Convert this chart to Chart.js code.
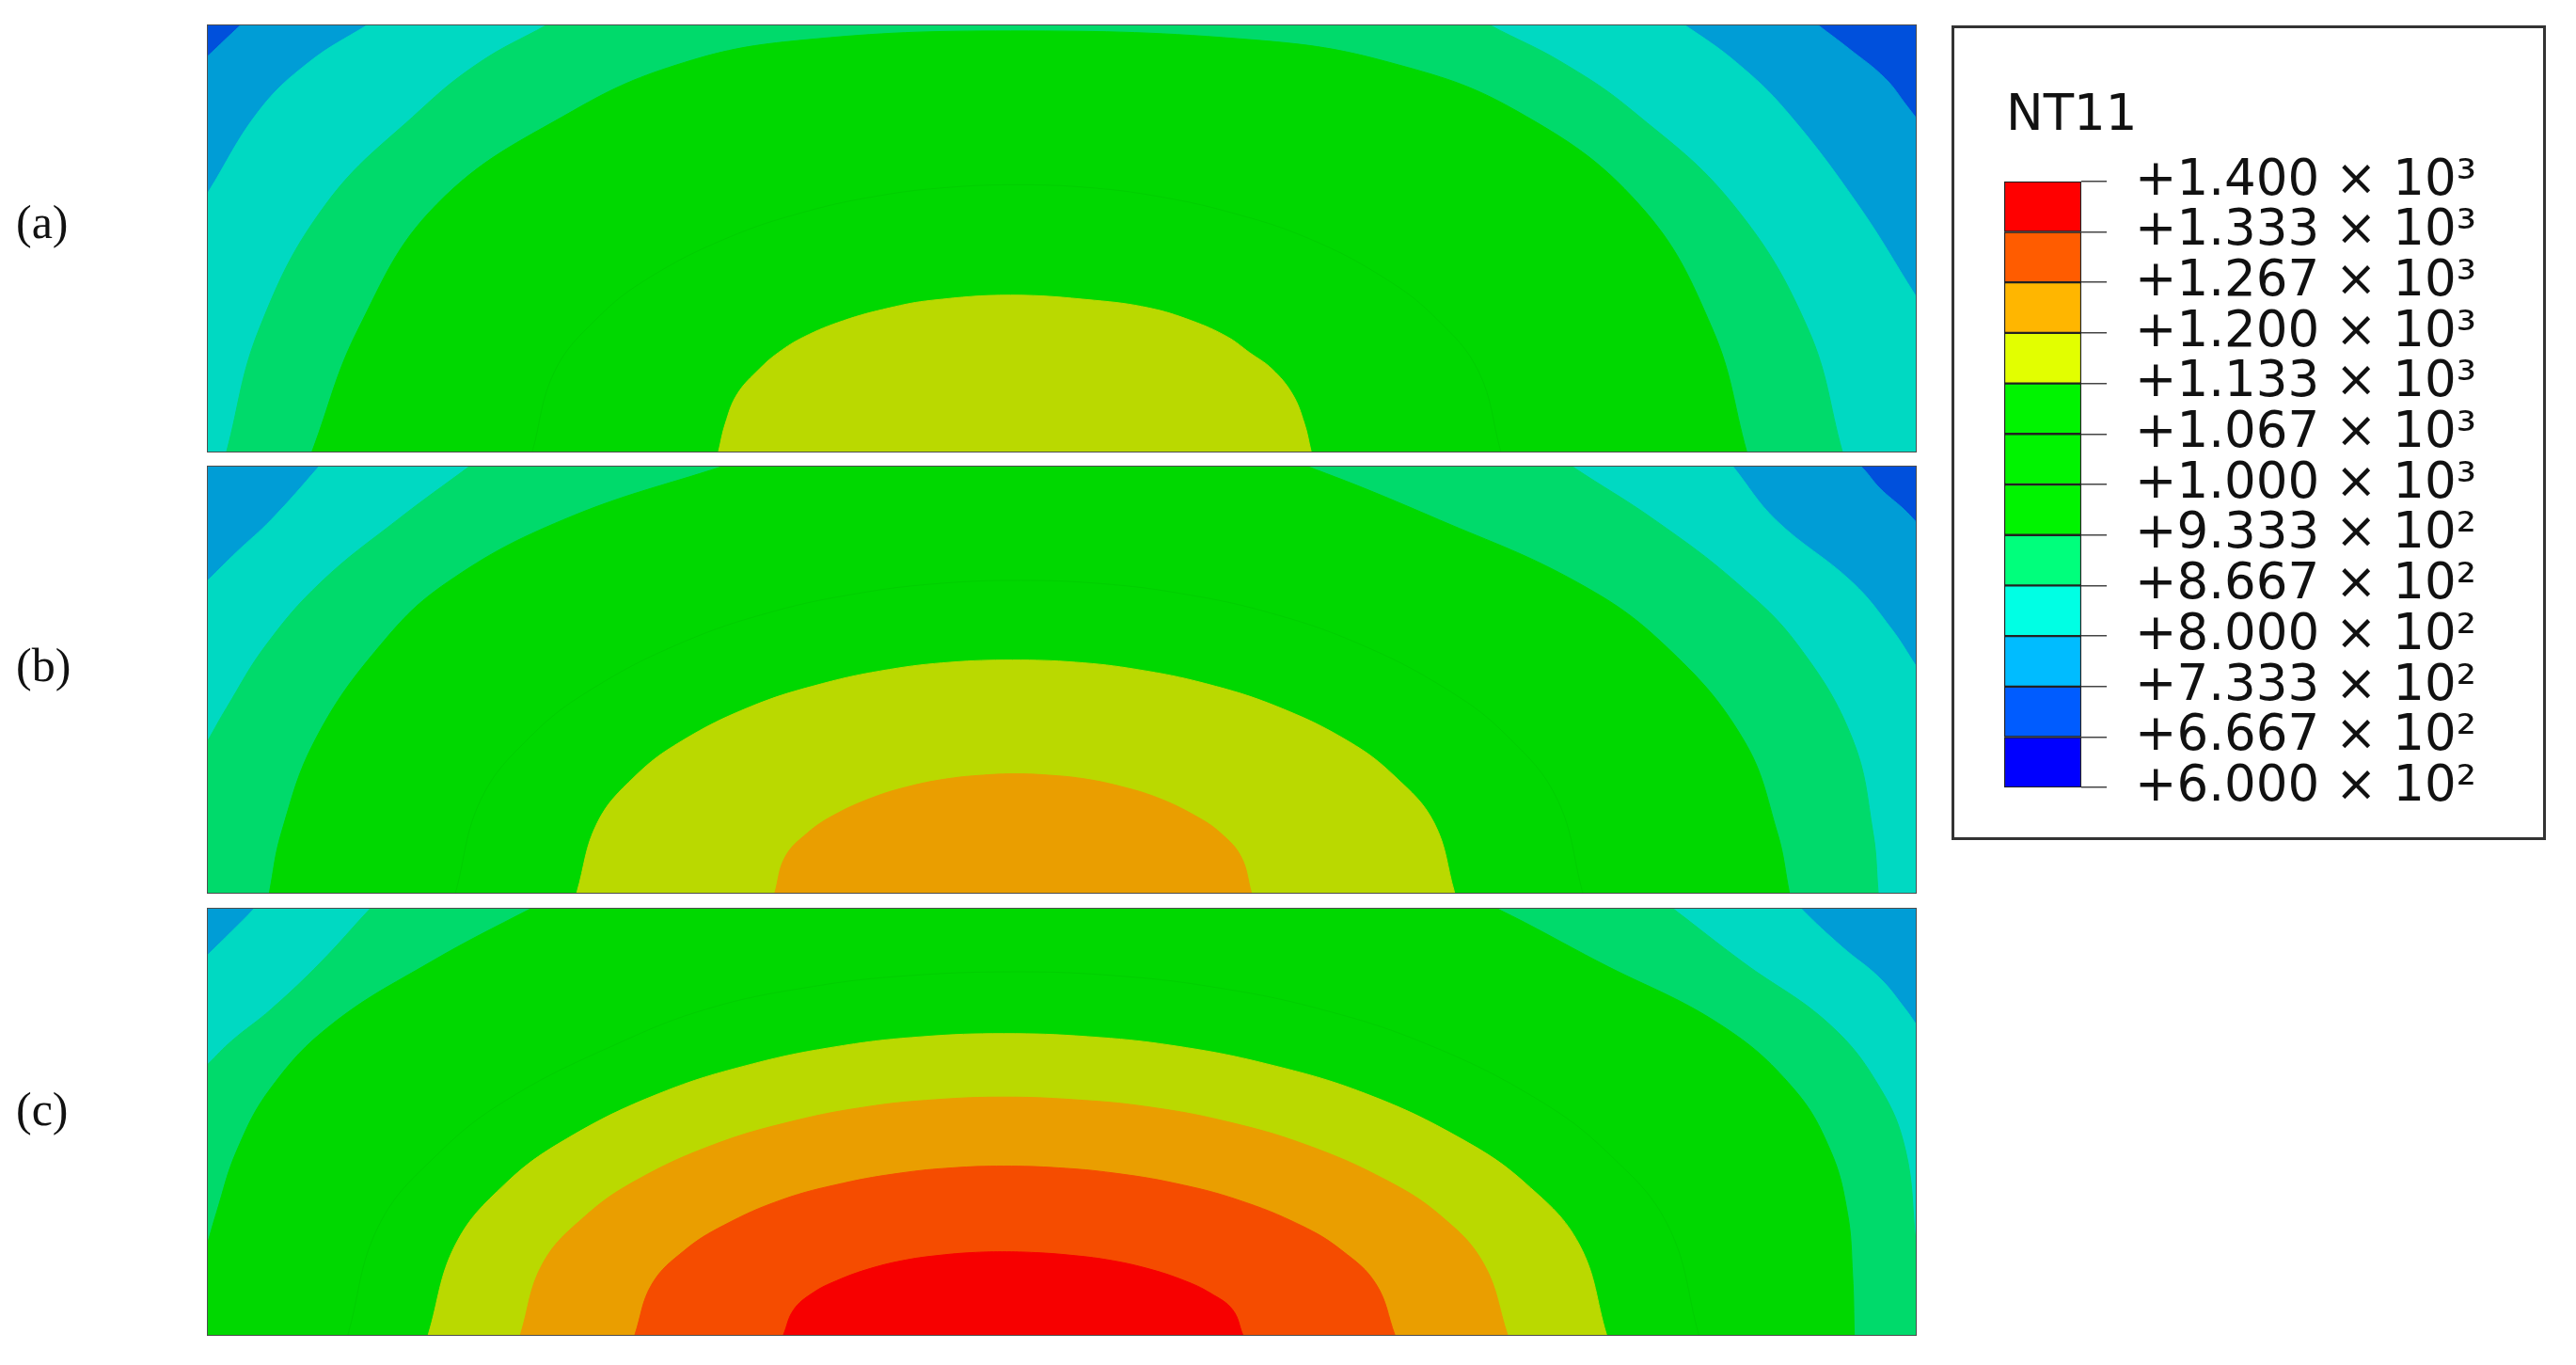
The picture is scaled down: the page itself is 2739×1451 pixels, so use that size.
<!DOCTYPE html>
<html>
<head>
<meta charset="utf-8">
<script src="https://cdn.jsdelivr.net/npm/chart.js@4.4.1/dist/chart.umd.min.js"></script>
<style>
body { margin:0; background:#fff; width:2739px; height:1451px; overflow:hidden; position:relative; }
.panel { position:absolute; left:220px; width:1818px; height:455px; box-sizing:border-box; border:1px solid #4d4d4d; }
.tag { position:absolute; left:17px; font:50px/50px "Liberation Serif", serif; color:#111; }
#legend-box { position:absolute; left:2075px; top:27px; width:632px; height:866px; box-sizing:border-box; border:3px solid #333; }
#legend-title { position:absolute; left:2133px; top:93px; font:53px/53px "DejaVu Sans", sans-serif; color:#111; }
#legend-wrap { position:absolute; left:2131px; top:131px; width:512px; height:768px; }
</style>
</head>
<body>
<div class="tag" style="top:211px">(a)</div>
<div class="tag" style="top:682px">(b)</div>
<div class="tag" style="top:1154px">(c)</div>
<div class="panel" style="top:26px"><canvas id="panel-a"></canvas></div>
<div class="panel" style="top:495px"><canvas id="panel-b"></canvas></div>
<div class="panel" style="top:965px"><canvas id="panel-c"></canvas></div>
<div id="legend-box"></div>
<div id="legend-title">NT11</div>
<div id="legend-wrap"><canvas id="legend"></canvas></div>

<script>
Chart.defaults.font.family = 'DejaVu Sans';

// legend levels (NT11) and their labels
const levels = [600, 666.7, 733.3, 800, 866.7, 933.3, 1000, 1066.7, 1133.3, 1200, 1266.7, 1333.3, 1400];
const tickLabels = ['+6.000 × 10²', '+6.667 × 10²', '+7.333 × 10²', '+8.000 × 10²', '+8.667 × 10²', '+9.333 × 10²',
    '+1.000 × 10³', '+1.067 × 10³', '+1.133 × 10³', '+1.200 × 10³', '+1.267 × 10³', '+1.333 × 10³', '+1.400 × 10³'];
const legendColors = ['#0000ff', '#005cff', '#00bcff', '#00ffe4', '#00ff7c', '#00f400', '#00f400', '#00f400',
    '#e2ff00', '#ffb600', '#ff5c00', '#ff0000'];

// contour fill colours as they show up in the plots
const darkBlue = '#0050dc';
const midBlue = '#009dd6';
const cyan = '#00d9c2';
const greenCyan = '#00da6b';
const green = '#00d800';
const yellow = '#bad900';
const orange = '#ea9e00';
const redOrange = '#f54c00';
const red = '#f70000';
const faintEdge = '#00cf00';

// contour boundaries, [x %, y %] from bottom-left of each plate, area below each line takes the colour
// (a)
const aFull = [[0, 100], [100, 100]];
const aBlue = [[0, 92.8], [1.9, 100], [3, 104], [93, 104], [94.3, 100], [96.1, 94.5], [98.2, 87.6], [99.5, 81], [100, 78.4]];
const aCyan = [[0, 60.7], [3.0, 80], [5.9, 91.3], [9.3, 100], [10.8, 103.5], [84.5, 105], [86.5, 100], [89.5, 91.3], [92.4, 80], [96.6, 58], [100, 36.5]];
const aGreenCyan = [[1.1, 0], [3.0, 28.7], [6.9, 58], [12.4, 80], [15.9, 91.3], [19.8, 100], [22.5, 106], [72.5, 106], [75.1, 100], [79.3, 91.3], [83.4, 80], [89.3, 58], [93.7, 28.7], [95.7, 0]];
const aGreen = [[6.1, 0], [8.8, 28.7], [13.4, 58], [21.4, 80], [27.9, 91.3], [34.7, 96.5], [47, 98.7], [61.5, 96.5], [69.2, 91.3], [76.6, 80], [83.8, 58], [88.1, 28.7], [90.1, 0]];
const aGreen2 = [[19.0, 0], [20.3, 18.8], [22.8, 31.3], [25.8, 40.7], [30.4, 50.1], [35.0, 56.3], [39.4, 60.1], [43.4, 62.0], [47.4, 62.6], [51.4, 62.0], [55.3, 60.1], [59.7, 56.3], [64.4, 50.1], [68.9, 40.7], [71.9, 31.3], [74.4, 18.8], [75.7, 0]];
const aYellow = [[29.9, 0], [30.3, 6.6], [31.0, 13.5], [32.3, 19.4], [33.4, 23.2], [34.9, 26.9], [37.2, 30.7], [39.9, 33.7], [42.4, 35.5], [47.0, 36.7], [51.9, 35.5], [55.1, 33.7], [57.6, 30.7], [59.7, 26.9], [61.0, 23.2], [62.3, 19.4], [63.5, 13.5], [64.2, 6.6], [64.6, 0]];

// (b)
const bFull = [[0, 100], [100, 100]];
const bBlue = [[0, 104], [95.5, 104], [96.8, 100], [97.9, 94.9], [99.3, 90], [100, 87.1]];
const bCyan = [[0, 73.3], [1.7, 80], [3.7, 87.5], [6.5, 100], [7.5, 105], [88.3, 105], [89.3, 100], [91.8, 87.5], [96.3, 72.8], [98.6, 61.8], [100, 53.3]];
const bGreenCyan = [[0, 35.7], [1.1, 43.4], [3.4, 58.1], [6.6, 72.8], [11.1, 87.5], [15.3, 100], [17, 105], [78.2, 105], [79.9, 100], [84.7, 87.5], [89.5, 72.8], [93.1, 58.1], [96.3, 36], [97.5, 14], [97.8, 0]];
const bGreen = [[3.6, 0], [4.3, 14], [6.3, 36], [10.1, 58.1], [14.0, 72.8], [20.8, 87.5], [30.1, 100], [33.5, 104], [61, 104], [64.4, 100], [72.1, 87.5], [80.2, 72.8], [85.3, 58.1], [89.9, 36], [91.9, 14], [92.6, 0]];
const bGreen2 = [[14.5, 0], [16.0, 22], [18.9, 36.7], [22.4, 47.6], [27.7, 58.6], [33.1, 66.0], [38.3, 70.4], [42.9, 72.6], [47.5, 73.3], [52.1, 72.6], [56.7, 70.4], [61.9, 66.0], [67.3, 58.6], [72.6, 47.6], [76.1, 36.7], [79.0, 22], [80.5, 0]];
const bYellow = [[21.6, 0], [22.8, 16.4], [25.0, 27.3], [27.7, 35.5], [31.8, 43.7], [36.0, 49.1], [39.9, 52.4], [43.5, 54.1], [47.1, 54.6], [50.8, 54.1], [54.4, 52.4], [58.4, 49.1], [62.6, 43.7], [66.8, 35.5], [69.5, 27.3], [71.8, 16.4], [73.0, 0]];
const bOrange = [[33.2, 0], [33.8, 8.4], [35.1, 14.0], [36.6, 18.1], [38.9, 22.3], [41.2, 25.1], [43.4, 26.8], [45.4, 27.6], [47.3, 27.9], [49.2, 27.6], [51.2, 26.8], [53.3, 25.1], [55.6, 22.3], [57.8, 18.1], [59.3, 14.0], [60.5, 8.4], [61.1, 0]];

// (c)
const cFull = [[0, 100], [100, 100]];
const cCyan = [[0, 89.2], [1.4, 94.7], [2.7, 100], [3.5, 104], [92.5, 104], [93.3, 100], [95.7, 91], [97.9, 83.7], [99.4, 76.4], [100, 73]];
const cGreenCyan = [[0, 63.5], [1.4, 69], [3.7, 76.4], [6.6, 87.4], [9.5, 100], [10.5, 104], [84.5, 104], [85.8, 100], [89.9, 87.4], [95.0, 72.7], [97.9, 58], [99.4, 43.3], [100, 22]];
const cGreen = [[0, 21.7], [0.5, 28.6], [1.7, 43.3], [3.7, 58], [7.2, 72.7], [13.0, 87.4], [18.9, 100], [21, 104], [73, 104], [75.5, 100], [81.5, 87.4], [88.6, 72.7], [92.8, 58], [95.0, 43.3], [96.0, 28.6], [96.3, 14], [96.4, 0]];
const cGreen2 = [[8.2, 0], [10.0, 25.6], [13.5, 42.6], [17.6, 55.4], [23.9, 68.2], [29.4, 76.7], [35.5, 81.8], [41.0, 84.3], [47.5, 85.2], [53.1, 84.3], [58.6, 81.8], [64.9, 76.7], [71.4, 68.2], [77.8, 55.4], [82.0, 42.6], [85.5, 25.6], [87.3, 0]];
const cYellow = [[12.9, 0], [14.5, 21.2], [17.4, 35.4], [21.0, 46.0], [26.4, 56.6], [31.9, 63.6], [37.2, 67.9], [41.9, 70.0], [46.6, 70.7], [51.5, 70.0], [56.5, 67.9], [62.0, 63.6], [67.8, 56.6], [73.4, 46.0], [77.2, 35.4], [80.3, 21.2], [81.9, 0]];
const cOrange = [[18.3, 0], [19.6, 16.7], [22.1, 27.9], [25.1, 36.3], [29.6, 44.6], [34.3, 50.2], [38.7, 53.6], [42.6, 55.2], [46.6, 55.8], [50.7, 55.2], [54.9, 53.6], [59.5, 50.2], [64.3, 44.6], [69.0, 36.3], [72.2, 27.9], [74.7, 16.7], [76.1, 0]];
const cRedOrange = [[25.0, 0], [26.0, 11.9], [27.9, 19.8], [30.2, 25.7], [33.6, 31.7], [37.2, 35.6], [40.6, 38.0], [43.6, 39.2], [46.6, 39.6], [49.8, 39.2], [53.0, 38.0], [56.6, 35.6], [60.3, 31.7], [64.0, 25.7], [66.4, 19.8], [68.4, 11.9], [69.5, 0]];
const cRed = [[33.7, 0], [34.3, 5.9], [35.4, 9.8], [36.8, 12.7], [38.8, 15.6], [40.9, 17.6], [42.9, 18.7], [44.7, 19.3], [46.5, 19.5], [48.5, 19.3], [50.5, 18.7], [52.7, 17.6], [55.0, 15.6], [57.2, 12.7], [58.7, 9.8], [60.0, 5.9], [60.6, 0]];

//build one contour plate, bands listed outermost first as [points, fill, edge]
function makePanel(id, bands) {
    const ctx = document.querySelector('#' + id).getContext('2d');
    new Chart(ctx, {
        type: 'line',
        data: {
            datasets: bands.map(function(band, i) {
                return {
                    data: band[0].map(p => ({x: p[0], y: p[1]})),
                    backgroundColor: band[1],
                    borderColor: band[2] || band[1],
                    borderWidth: 1,
                    fill: 'origin',
                    pointRadius: 0,
                    tension: 0.4,
                    capBezierPoints: false,
                    order: bands.length - i
                };
            })
        },
        options: {
            responsive: true,
            maintainAspectRatio: false,
            animation: false,
            events: [],
            layout: { padding: 0 },
            plugins: { legend: { display: false }, tooltip: { enabled: false } },
            scales: {
                x: { type: 'linear', min: 0, max: 100, display: false },
                y: { type: 'linear', min: 0, max: 100, display: false }
            }
        }
    });
}

makePanel('panel-a', [[aFull, darkBlue], [aBlue, midBlue], [aCyan, cyan], [aGreenCyan, greenCyan],
    [aGreen, green], [aGreen2, green, faintEdge], [aYellow, yellow]]);
makePanel('panel-b', [[bFull, darkBlue], [bBlue, midBlue], [bCyan, cyan], [bGreenCyan, greenCyan],
    [bGreen, green], [bGreen2, green, faintEdge], [bYellow, yellow], [bOrange, orange]]);
makePanel('panel-c', [[cFull, midBlue], [cCyan, cyan], [cGreenCyan, greenCyan], [cGreen, green],
    [cGreen2, green, faintEdge], [cYellow, yellow], [cOrange, orange], [cRedOrange, redOrange], [cRed, red]]);

//colour bar legend
const legendCtx = document.querySelector('#legend').getContext('2d');
new Chart(legendCtx, {
    type: 'bar',
    data: {
        labels: ['NT11'],
        datasets: legendColors.map(function(color, i) {
            return {
                data: [[levels[i], levels[i + 1]]],
                backgroundColor: color,
                borderColor: '#222',
                borderWidth: 1.5,
                borderSkipped: false,
                grouped: false,
                barPercentage: 1,
                categoryPercentage: 1
            };
        })
    },
    options: {
        responsive: true,
        maintainAspectRatio: false,
        animation: false,
        events: [],
        layout: { padding: { top: 40, bottom: 40, left: 0, right: 0 } },
        plugins: { legend: { display: false }, tooltip: { enabled: false } },
        scales: {
            x: { display: false },
            y: {
                position: 'right',
                min: 600,
                max: 1400,
                afterBuildTicks: function(scale) {
                    scale.ticks = levels.map(v => ({ value: v }));
                },
                afterFit: function(scale) {
                    scale.width = 430;
                },
                ticks: {
                    autoSkip: false,
                    padding: 30,
                    color: '#111',
                    font: { size: 53 },
                    callback: function(value, index) {
                        return tickLabels[index];
                    }
                },
                grid: {
                    drawOnChartArea: false,
                    drawTicks: true,
                    tickLength: 27,
                    color: '#444',
                    lineWidth: 1.5
                },
                border: { display: false }
            }
        }
    }
});
</script>
</body>
</html>
